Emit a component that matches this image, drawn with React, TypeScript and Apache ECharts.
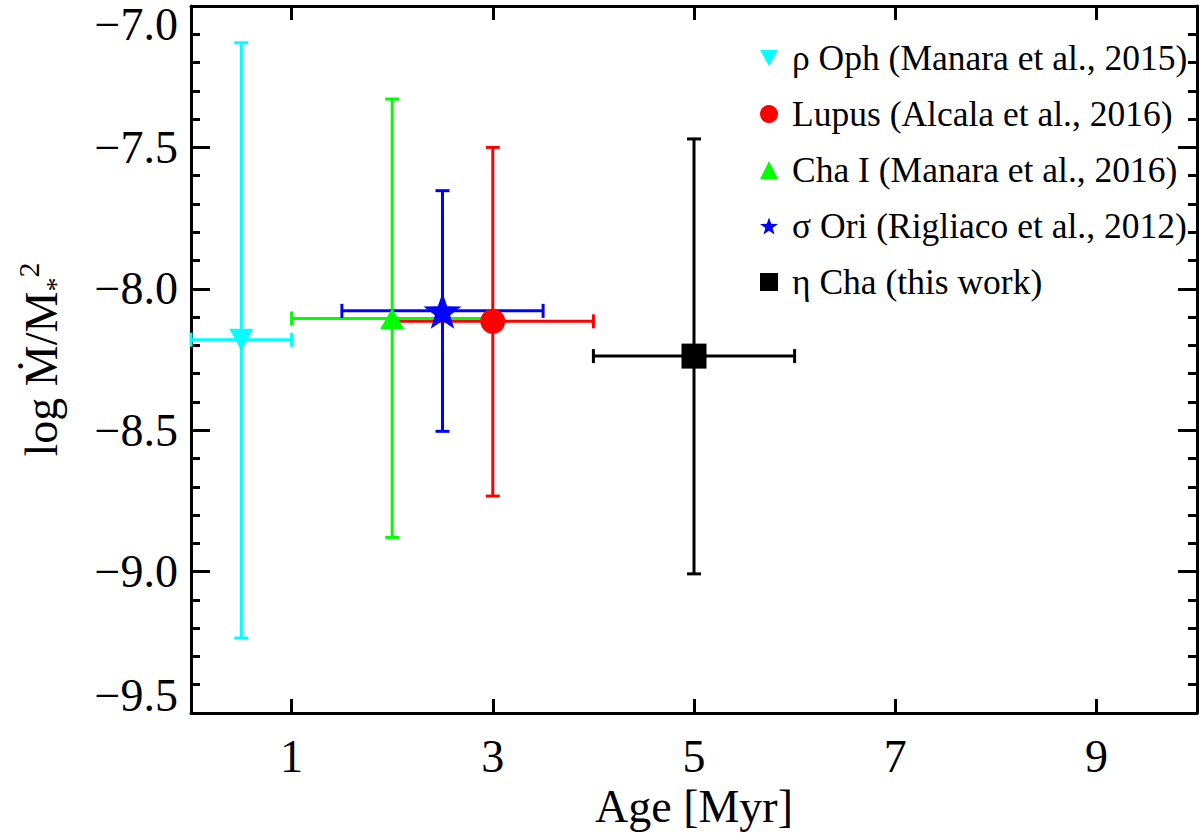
import { useEffect, useRef } from "react";
import * as echarts from "echarts";

// groups, in legend order
const groupNames = [
  "ρ Oph (Manara et al., 2015)",
  "Lupus (Alcala et al., 2016)",
  "Cha I (Manara et al., 2016)",
  "σ Ori (Rigliaco et al., 2012)",
  "η Cha (this work)",
];
const ages = [0.5, 3, 2, 2.5, 5];
const ageLow = [0, 2, 1, 1.5, 4];
const ageHigh = [1, 4, 3, 3.5, 6];
const logRate = [-8.18, -8.115, -8.105, -8.078, -8.238];
const rateLow = [-9.235, -8.733, -8.879, -8.504, -9.008];
const rateHigh = [-7.13, -7.5, -7.329, -7.653, -7.47];

const xTicks = [1, 3, 5, 7, 9];

const colors = ["#00FFFF", "#FF0000", "#00FF00", "#0000FF", "#000000"];

// five-point star outline for the sigma Ori marker
const starPath = (() => {
  const pts: string[] = [];
  for (let i = 0; i < 10; i++) {
    const r = i % 2 === 0 ? 50 : 20;
    const a = -Math.PI / 2 + (i * Math.PI) / 5;
    pts.push(`${(50 + r * Math.cos(a)).toFixed(2)},${(50 + r * Math.sin(a)).toFixed(2)}`);
  }
  return "path://M" + pts.join("L") + "Z";
})();
const downTriangle = "path://M0,0L20,0L10,18Z";

const symbols = ["triangle", "circle", "triangle", starPath, "rect"];
const symbolRotates = [180, 0, 0, 0, 0];
const legendIcons = [downTriangle, "circle", "triangle", starPath, "rect"];
const symbolSizes: [number, number][] = [
  [24, 22],
  [25, 25],
  [24, 21],
  [38, 36],
  [25, 25],
];

const FONT = "'Liberation Serif', 'Times New Roman', serif";

const minusFmt = (v: number) => (v < 0 ? "\u2212" : "") + Math.abs(v).toFixed(1);

const App = () => {
  const chartRef = useRef<HTMLDivElement>(null);

  useEffect(() => {
    if (!chartRef.current) return;
    const chart = echarts.init(chartRef.current, null, { renderer: "svg" });

    const series: any[] = [];
    groupNames.forEach((name, i) => {
      series.push({
        name: "err-" + i,
        type: "custom",
        xAxisIndex: 0,
        yAxisIndex: 0,
        clip: false,
        data: [[ages[i], logRate[i], ageLow[i], ageHigh[i], rateLow[i], rateHigh[i]]],
        renderItem: (_params: any, api: any) => {
          const c = api.coord([api.value(0), api.value(1)]);
          const xl = api.coord([api.value(2), api.value(1)]);
          const xh = api.coord([api.value(3), api.value(1)]);
          const yl = api.coord([api.value(0), api.value(4)]);
          const yh = api.coord([api.value(0), api.value(5)]);
          const cap = 7;
          const style = { stroke: colors[i], lineWidth: 3 };
          const ln = (x1: number, y1: number, x2: number, y2: number) => ({
            type: "line",
            shape: { x1, y1, x2, y2 },
            style,
          });
          return {
            type: "group",
            children: [
              ln(xl[0], c[1], xh[0], c[1]),
              ln(xl[0], c[1] - cap, xl[0], c[1] + cap),
              ln(xh[0], c[1] - cap, xh[0], c[1] + cap),
              ln(c[0], yl[1], c[0], yh[1]),
              ln(c[0] - cap, yl[1], c[0] + cap, yl[1]),
              ln(c[0] - cap, yh[1], c[0] + cap, yh[1]),
            ],
          };
        },
      });
      series.push({
        name,
        type: "scatter",
        xAxisIndex: 0,
        yAxisIndex: 0,
        symbol: symbols[i],
        symbolRotate: symbolRotates[i],
        symbolSize: symbolSizes[i],
        itemStyle: { color: colors[i], opacity: 1 },
        data: [[ages[i], logRate[i]]],
      });
    });

    const axisLine = { show: true, onZero: false, lineStyle: { color: "#000", width: 3 } };

    const option: echarts.EChartsOption = {
      animation: false,
      backgroundColor: "#fff",
      grid: { left: 191, right: 3, top: 6, bottom: 122 },
      legend: {
        orient: "vertical",
        left: 755,
        top: 35,
        itemWidth: 18,
        itemHeight: 18,
        itemGap: 20,
        data: groupNames.map((name, i) => ({ name, icon: legendIcons[i] })),
        textStyle: {
          fontFamily: FONT,
          fontSize: 35.5,
          lineHeight: 36,
          color: "#000",
          padding: [0, 0, 0, 9],
        },
      },
      xAxis: [
        {
          type: "value",
          min: 0,
          max: 10,
          position: "bottom",
          name: "Age [Myr]",
          nameLocation: "middle",
          nameGap: 54,
          nameTextStyle: { fontFamily: FONT, fontSize: 46, color: "#000" },
          axisLine,
          axisTick: {
            show: true,
            inside: true,
            length: 14,
            customValues: xTicks,
            lineStyle: { color: "#000", width: 3 },
          },
          axisLabel: {
            customValues: xTicks,
            fontFamily: FONT,
            fontSize: 46,
            color: "#000",
            margin: 20,
          },
          splitLine: { show: false },
        } as any,
        {
          type: "value",
          min: 0,
          max: 10,
          position: "top",
          axisLine,
          axisTick: {
            show: true,
            inside: true,
            length: 14,
            customValues: xTicks,
            lineStyle: { color: "#000", width: 3 },
          },
          axisLabel: { show: false },
          splitLine: { show: false },
        } as any,
      ],
      yAxis: [
        {
          type: "value",
          min: -9.5,
          max: -7.0,
          interval: 0.5,
          position: "left",
          name: "{a|log Ṁ/M}{s|*}{p|2}",
          nameLocation: "middle",
          nameRotate: 90,
          nameGap: 122,
          nameTextStyle: {
            fontFamily: FONT,
            color: "#000",
            rich: {
              a: { fontFamily: FONT, fontSize: 46, lineHeight: 56, color: "#000" },
              s: { fontFamily: FONT, fontSize: 28, lineHeight: 26, verticalAlign: "bottom", color: "#000" },
              p: { fontFamily: FONT, fontSize: 30, lineHeight: 30, verticalAlign: "top", color: "#000" },
            },
          },
          axisLine,
          axisTick: { show: true, inside: true, length: 19, lineStyle: { color: "#000", width: 3 } },
          minorTick: { show: true, splitNumber: 5, length: 9, lineStyle: { color: "#000", width: 3 } },
          axisLabel: {
            fontFamily: FONT,
            fontSize: 46,
            lineHeight: 36,
            color: "#000",
            margin: 13,
            formatter: minusFmt,
            verticalAlignMinLabel: "bottom",
            verticalAlignMaxLabel: "top",
          },
          splitLine: { show: false },
          minorSplitLine: { show: false },
        } as any,
        {
          type: "value",
          min: -9.5,
          max: -7.0,
          interval: 0.5,
          position: "right",
          axisLine,
          axisTick: { show: true, inside: true, length: 19, lineStyle: { color: "#000", width: 3 } },
          minorTick: { show: true, splitNumber: 5, length: 9, lineStyle: { color: "#000", width: 3 } },
          axisLabel: { show: false },
          splitLine: { show: false },
          minorSplitLine: { show: false },
        } as any,
      ],
      series,
    };

    chart.setOption(option);

    return () => {
      chart.dispose();
    };
  }, []);

  return (
    <div
      ref={chartRef}
      style={{ position: "fixed", left: 0, top: 0, width: 1200, height: 835 }}
    />
  );
};

export default App;
